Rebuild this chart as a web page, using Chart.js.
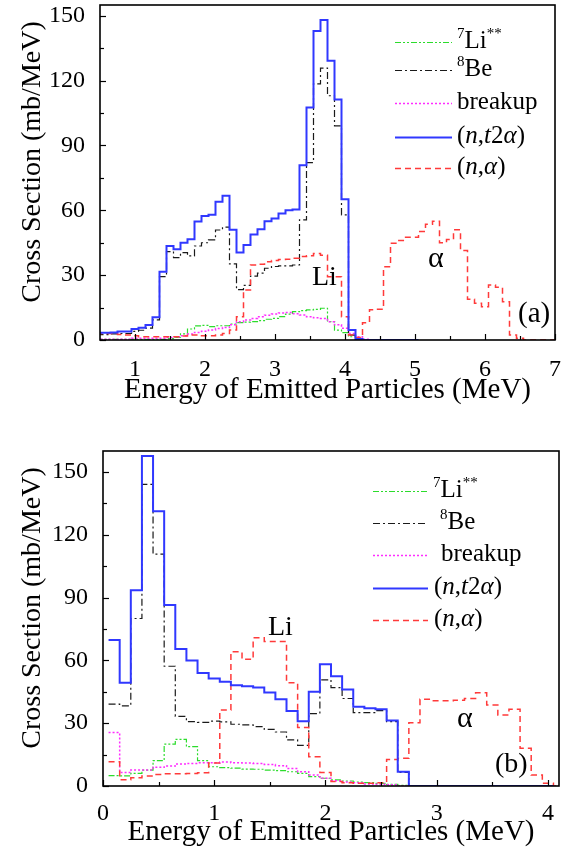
<!DOCTYPE html>
<html><head><meta charset="utf-8">
<script src="https://cdn.jsdelivr.net/npm/chart.js@4.4.1/dist/chart.umd.min.js"></script>
<style>
html,body{margin:0;padding:0;background:#fff;}
body{width:576px;height:852px;position:relative;overflow:hidden;font-family:"Liberation Serif","Times New Roman",serif;color:#000;}
canvas{position:absolute;left:0;}
.t{position:absolute;white-space:nowrap;line-height:1;}
.yt{position:absolute;white-space:nowrap;line-height:1;font-size:28px;transform:translate(-50%,-50%) rotate(-90deg);}
.lg{position:absolute;white-space:nowrap;line-height:1;font-size:25px;}
.sp{font-size:15px;position:relative;top:-10px;}
</style></head><body>
<canvas id="ca" width="576" height="420" style="top:0"></canvas>
<canvas id="cb" width="576" height="432" style="top:420px"></canvas>

<div class="yt" style="left:31px;top:162px">Cross Section (mb/MeV)</div>
<div class="yt" style="left:31px;top:608px">Cross Section (mb/MeV)</div>

<div class="lg" style="left:457px;top:27px"><span class="sp">7</span>Li<span class="sp">**</span></div>
<div class="lg" style="left:457px;top:55px"><span class="sp">8</span>Be</div>
<div class="lg" style="left:457px;top:88px">breakup</div>
<div class="lg" style="left:457px;top:122px">(<i>n</i>,<i>t</i>2<i>α</i>)</div>
<div class="lg" style="left:457px;top:153px">(<i>n</i>,<i>α</i>)</div>
<div class="t" style="left:312px;top:262px;font-size:28px">Li</div>
<div class="t" style="left:428px;top:242px;font-size:30px">α</div>
<div class="t" style="left:518px;top:298px;font-size:29px">(a)</div>

<div class="lg" style="left:433px;top:476px"><span class="sp">7</span>Li<span class="sp">**</span></div>
<div class="lg" style="left:440px;top:508px"><span class="sp">8</span>Be</div>
<div class="lg" style="left:441px;top:540px">breakup</div>
<div class="lg" style="left:434px;top:573px">(<i>n</i>,<i>t</i>2<i>α</i>)</div>
<div class="lg" style="left:434px;top:605px">(<i>n</i>,<i>α</i>)</div>
<div class="t" style="left:268px;top:612px;font-size:28px">Li</div>
<div class="t" style="left:457px;top:702px;font-size:30px">α</div>
<div class="t" style="left:495px;top:749px;font-size:28px">(b)</div>

<script>
// ---------- Panel (a): bin centres (MeV) and spectra (mb/MeV) ----------
const energyA = [0.5,0.6,0.7,0.8,0.9,1.0,1.1,1.2,1.3,1.4,1.5,1.6,1.7,1.8,1.9,2.0,2.1,2.2,2.3,2.4,2.5,2.6,2.7,2.8,2.9,3.0,3.1,3.2,3.3,3.4,3.5,3.6,3.7,3.8,3.9,4.0,4.1,4.2,4.3,4.4,4.5,4.6,4.7,4.8,4.9,5.0,5.1,5.2,5.3,5.4,5.5,5.6,5.7,5.8,5.9,6.0,6.1,6.2,6.3,6.4,6.5,6.6,6.7,6.8,6.9,7.0];
const nt2aA = [3.4,3.4,3.5,3.9,3.9, 5.1,5.7,6.9,10.5,31.6, 43.5,42.0,45.0,46.6,54.8, 57.4,57.9,64.0,66.7,51.0, 40.5,44.0,48.8,51.2,55.0, 56.2,58.5,60.0,60.4,80.8, 107.6,143.0,148.1,129.2,111.3, 65.1,4.6,0.5,0,0, 0,0,0,0,0, 0];
const be8A = [2.5,2.5,2.8,3.0,3.0, 4.0,4.5,5.5,9.3,29.3, 40.9,38.1,40.4,38.9,43.5, 45.0,46.3,50.9,52.2,35.2, 23.3,25.3,29.6,30.9,33.2, 34.0,34.3,34.3,34.7,55.6, 82.1,118.5,125.8,113.0,99.1, 57.9,2.3,0.3,0];
const naA = [3.0,3.0,3.0,2.5,2.3, 2.0,1.5,1.5,1.5,1.5, 1.5,1.5,1.8,2.3,2.3, 2.0,2.0,2.3,3.0,4.6, 10.8,23.1,34.7,35.0,36.2, 36.8,37.2,37.4,37.8,38.6, 39.0,40.0,39.2,29.3,29.3, 10.8,2.3,1.2,8.0,14.0, 14.2,33.9,44.8,46.0,47.5, 47.5,50.2,53.5,55.0,45.0, 46.5,51.0,41.4,18.8,17.0, 15.4,25.5,24.4,17.7,2.3, 0.8,0,0,0,0, 0];
const li7A = [0.3,0.3,0.3,0.3,0.3, 0.3,0.3,0.3,0.3,0.3, 0.6,1.2,2.8,5.1,6.5, 6.8,6.2,6.6,6.6,7.4, 8.0,8.3,8.5,9.0,9.6, 10.0,10.8,12.0,13.1,13.6, 13.9,14.2,14.7,8.5,4.6, 3.4,1.5,0.8,0];
const brkA = [0.3,0.3,0.3,0.3,0.3, 0.8,0.8,0.8,0.8,0.8, 1.2,1.5,2.0,2.8,3.5, 4.0,4.6,5.3,5.8,7.0, 8.5,9.3,10.0,10.8,11.5, 12.0,12.5,12.7,12.2,11.6, 10.8,10.3,10.0,8.5,7.0, 5.4,3.0,1.5,0.3,0];

// ---------- Panel (b) ----------
const energyB = [0.1,0.2,0.3,0.4,0.5,0.6,0.7,0.8,0.9,1.0,1.1,1.2,1.3,1.4,1.5,1.6,1.7,1.8,1.9,2.0,2.1,2.2,2.3,2.4,2.5,2.6,2.7,2.8,2.9,3.0,3.1,3.2,3.3,3.4,3.5,3.6,3.7,3.8,3.9,4.0,4.1];
const nt2aB = [69.7,49.3,93.5,157.6,131.2, 86.4,65.4,60.0,54.0,51.3, 49.8,48.1,47.7,47.1,44.6, 41.4,35.8,30.9,45.0,58.2, 52.4,46.1,37.9,37.1,36.6, 31.3,6.8,0,0,0, 0,0,0,0,0, 0,0,0,0,0];
const be8B = [39.1,38.3,80.0,144.1,110.7, 57.2,33.3,30.7,30.4,31.0, 30.6,29.5,29.2,28.4,27.0, 25.8,22.0,19.4,34.6,50.7, 47.0,41.8,35.0,35.0,36.0, 30.7,6.5,0];
const naB = [11.6,3.0,4.0,4.8,5.5, 5.8,5.8,6.0,6.3,11.0, 36.3,64.1,60.5,70.8,69.0, 69.0,49.3,28.0,14.0,6.4, 2.1,1.6,1.3,1.3,1.6, 12.7,13.2,30.2,41.4,40.7, 40.7,41.0,41.8,44.5,38.7, 33.9,36.6,18.0,5.2,1.3, 0];
const li7B = [5.0,4.8,6.0,7.6,12.1, 20.0,22.3,18.8,12.1,9.2, 8.8,8.5,8.1,8.0,7.6, 7.3,6.8,6.0,4.5,3.7, 2.9,2.4,1.9,1.6,1.3, 0.8,0.3,0];
const brkB = [25.5,6.4,7.6,7.6,8.9, 9.5,10.5,10.8,11.1,11.1, 11.5,11.1,11.0,10.8,10.3, 9.7,8.4,6.8,5.2,3.7, 2.5,1.9,1.6,1.0,0.8, 0.6,0];

// ---------- Axis ticks ----------
const yTicks = [0,30,60,90,120,150];
const yMinor = [15,45,75,105,135];
const xTicksA = [1,2,3,4,5,6,7];
const xMinorA = [1.5,2.5,3.5,4.5,5.5,6.5];
const xTicksB = [0,1,2,3,4];
const xMinorB = [0.5,1.5,2.5,3.5];

const FONT = '"Liberation Serif","Times New Roman",serif';
const STY = {
  nt2a:{label:'(n,t2α)', color:'#3038ff', dash:[], width:2},
  na:  {label:'(n,α)',   color:'#ff3a3a', dash:[6,4], width:1.5},
  be8: {label:'8Be',     color:'#1a1a1a', dash:[7,3,2,3], width:1.2},
  brk: {label:'breakup', color:'#ff2cff', dash:[2,2], width:1.5},
  li7: {label:'7Li**',   color:'#2cdc2c', dash:[6,2,2,2,2,2], width:1.2}
};
const LEGEND_ORDER = ['li7','be8','brk','nt2a','na'];

function hist(centers, vals){
  const half = (centers[1]-centers[0])/2;
  const pts = [{x: centers[0]-half, y: vals[0]}];
  for (let i=0;i<vals.length;i++) pts.push({x:centers[i], y:vals[i]});
  const n = vals.length-1;
  pts.push({x: centers[n]+half, y: vals[n]});
  return pts;
}
function ds(key, centers, vals){
  const s = STY[key];
  return {label:s.label, data:hist(centers, vals), borderColor:s.color, borderDash:s.dash,
    borderWidth:s.width, stepped:'middle', pointRadius:0, fill:false, tension:0};
}

const framePlugin = {
  id:'frame',
  afterDatasetsDraw(chart, args, o){
    const {ctx, chartArea:a, scales:{x,y}} = chart;
    ctx.save();
    ctx.setLineDash([]);
    ctx.strokeStyle = '#000';
    ctx.lineWidth = 1.2;
    const tick = (px, py, dx, dy) => { ctx.beginPath(); ctx.moveTo(px,py); ctx.lineTo(px+dx,py+dy); ctx.stroke(); };
    o.xMajor.forEach(v => tick(Math.round(x.getPixelForValue(v))+0.5, a.bottom, 0, -6));
    o.xMinor.forEach(v => tick(Math.round(x.getPixelForValue(v))+0.5, a.bottom, 0, -4));
    o.yMajor.forEach(v => tick(a.left, Math.round(y.getPixelForValue(v))+0.5, 6, 0));
    o.yMinor.forEach(v => tick(a.left, Math.round(y.getPixelForValue(v))+0.5, 4, 0));
    ctx.lineWidth = 1.6;
    ctx.strokeRect(a.left, a.top, a.right-a.left, a.bottom-a.top);
    LEGEND_ORDER.forEach((k,i) => {
      const s = STY[k];
      ctx.strokeStyle = s.color; ctx.lineWidth = s.width; ctx.setLineDash(s.dash);
      ctx.beginPath(); ctx.moveTo(o.legX0, o.legY[i]+0.5); ctx.lineTo(o.legX1, o.legY[i]+0.5); ctx.stroke();
    });
    ctx.restore();
  }
};

function makeChart(id, centers, d, cfg){
  return new Chart(document.getElementById(id), {
    type:'line',
    data:{datasets:[
      ds('nt2a', centers, d.nt2a),
      ds('na', centers, d.na),
      ds('be8', centers, d.be8),
      ds('brk', centers, d.brk),
      ds('li7', centers, d.li7)
    ]},
    options:{
      responsive:false, animation:false, devicePixelRatio:1,
      layout:{padding:cfg.pad},
      plugins:{legend:{display:false}, tooltip:{enabled:false},
        frame:{xMajor:cfg.xTicks, xMinor:cfg.xMinor, yMajor:yTicks, yMinor:yMinor,
               legX0:cfg.legX0, legX1:cfg.legX1, legY:cfg.legY}},
      scales:{
        x:{type:'linear', min:cfg.xMin, max:cfg.xMax,
          afterBuildTicks:s=>{ s.ticks = cfg.xTicks.map(v=>({value:v})); },
          grid:{display:false}, border:{display:false},
          ticks:{font:{family:FONT,size:24}, color:'#000', padding:cfg.xPad, maxRotation:0, autoSkip:false, callback:v=>String(v)},
          title:{display:true, text:'Energy of Emitted Particles (MeV)', color:'#000',
            font:{family:FONT,size:29,lineHeight:1}, padding:{top:0,bottom:cfg.xTitlePad}},
          afterFit:s=>{ s.height = cfg.xH; s.paddingLeft = 0; s.paddingRight = 0; }
        },
        y:{type:'linear', min:0, max:cfg.yMax,
          afterBuildTicks:s=>{ s.ticks = yTicks.map(v=>({value:v})); },
          grid:{display:false}, border:{display:false},
          ticks:{font:{family:FONT,size:24}, color:'#000', padding:7, autoSkip:false, callback:v=>String(v)},
          title:{display:false},
          afterFit:s=>{ s.width = cfg.yW; s.paddingTop = 0; s.paddingBottom = 0; }
        }
      }
    },
    plugins:[framePlugin]
  });
}

makeChart('ca', energyA, {nt2a:nt2aA, na:naA, be8:be8A, brk:brkA, li7:li7A}, {
  pad:{left:0,right:21,top:5,bottom:0}, xMin:0.5, xMax:7, yMax:155, xH:80, yW:100,
  xTicks:xTicksA, xMinor:xMinorA, xPad:7, xTitlePad:15,
  legX0:395, legX1:452, legY:[42,70,103,137,168]
});
makeChart('cb', energyB, {nt2a:nt2aB, na:naB, be8:be8B, brk:brkB, li7:li7B}, {
  pad:{left:0,right:17,top:31,bottom:0}, xMin:0, xMax:4.1, yMax:160, xH:66, yW:103,
  xTicks:xTicksB, xMinor:xMinorB, xPad:5, xTitlePad:5,
  legX0:373, legX1:428, legY:[71,103,135,168,200]
});
</script>
</body></html>
